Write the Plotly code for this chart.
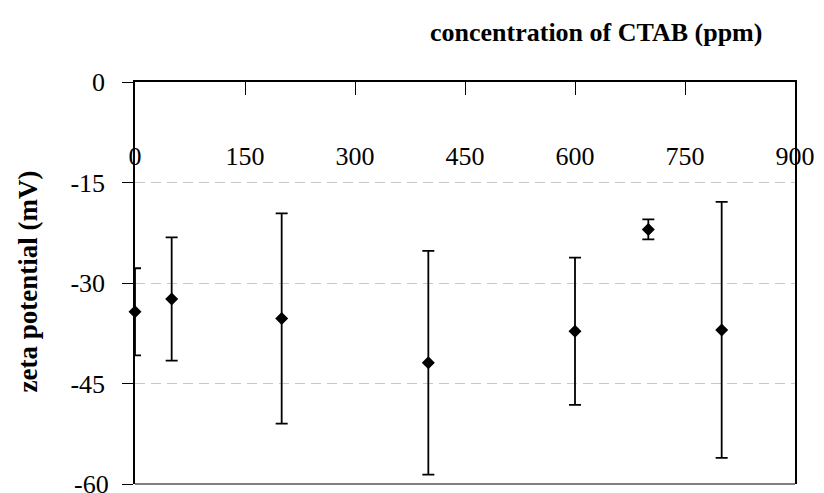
import plotly.graph_objects as go

# Data
ctab_ppm = [0, 50, 200, 400, 600, 700, 800]
zeta_mv = [-34.3, -32.4, -35.3, -41.9, -37.2, -22.0, -37.0]
zeta_err = [6.5, 9.2, 15.7, 16.7, 11.0, 1.5, 19.1]
x_ticks = [0, 150, 300, 450, 600, 750, 900]
y_ticks = [0, -15, -30, -45, -60]

FONT = "Liberation Serif, Times New Roman, serif"
FS = 26

fig = go.Figure()
fig.add_trace(go.Scatter(
    x=ctab_ppm, y=zeta_mv, mode="markers",
    marker=dict(symbol="diamond", size=10, color="black"),
    error_y=dict(type="data", array=zeta_err, visible=True,
                 color="black", thickness=1.8, width=6),
    cliponaxis=False, showlegend=False,
))

fig.update_layout(
    width=824, height=493,
    margin=dict(l=135, r=21, t=82, b=9),
    paper_bgcolor="white", plot_bgcolor="white",
    font=dict(family=FONT, size=FS, color="black"),
    xaxis=dict(
        range=[0, 900], side="top", anchor="y",
        tickvals=x_ticks, showticklabels=False,
        ticks="inside", ticklen=13, tickwidth=1.2, tickcolor="black",
        showline=True, linecolor="black", linewidth=1.5,
        showgrid=False, zeroline=False,
    ),
    xaxis2=dict(
        range=[0, 900], overlaying="x", anchor="free", position=0.78,
        side="top", tickvals=x_ticks, ticktext=[str(v) for v in x_ticks],
        ticks="", showline=False, showgrid=False, zeroline=False,
        tickfont=dict(family=FONT, size=FS, color="black"),
    ),
    yaxis=dict(
        range=[-60, 0], tickvals=y_ticks, ticktext=[str(v) for v in y_ticks],
        ticks="outside", ticklen=11, tickwidth=1.2, tickcolor="black",
        ticklabelstandoff=12,
        showline=True, linecolor="black", linewidth=1.5, mirror=True,
        showgrid=True, gridcolor="#c8c8c8", gridwidth=1, griddash="10px,6px",
        zeroline=False,
        tickfont=dict(family=FONT, size=FS, color="black"),
    ),
    shapes=[dict(type="line", xref="paper", yref="paper", x0=0, x1=1, y0=0, y1=0,
                 line=dict(color="#808080", width=2))],
    annotations=[
        dict(text="<b>concentration of CTAB (ppm)</b>", xref="paper", yref="paper",
             x=0.699, y=1.122, xanchor="center", yanchor="middle", showarrow=False,
             font=dict(family=FONT, size=FS, color="black")),
        dict(text="<b>zeta potential (mV)</b>", xref="paper", yref="paper",
             x=-0.162, y=0.504, xanchor="center", yanchor="middle", showarrow=False,
             textangle=-90, font=dict(family=FONT, size=FS + 1, color="black")),
        # bottom tick label (Plotly hides it because it overflows the page edge)
        dict(text=str(y_ticks[-1]), xref="paper", yref="y",
             x=-0.037, y=y_ticks[-1], xanchor="right", yanchor="middle",
             showarrow=False, font=dict(family=FONT, size=FS, color="black")),
    ],
)

# invisible trace so xaxis2 is rendered
fig.add_trace(go.Scatter(x=[0, 900], y=[None, None], xaxis="x2", yaxis="y",
                         mode="markers", showlegend=False, hoverinfo="skip"))

fig.write_html("out.html")
